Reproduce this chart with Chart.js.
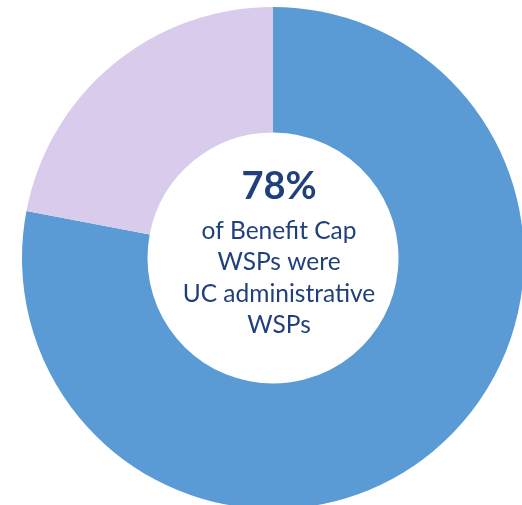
<!DOCTYPE html>
<html>
<head>
<meta charset="utf-8">
<script src="https://cdn.jsdelivr.net/npm/chart.js@4"></script>
<style>
  html, body { margin: 0; padding: 0; background: #fff; overflow: hidden; width: 522px; height: 505px; }
  #wrap { position: absolute; left: 22px; top: 7px; width: 502px; height: 502px; }
</style>
</head>
<body>
<div id="wrap"><canvas id="chart" width="502" height="502"></canvas></div>
<script>
const labels = ["UC administrative WSPs", "Other Benefit Cap WSPs"];
const shares = [78, 22];
const sliceColors = ["#5b9bd5", "#d9cbec"];
const headline = "78%";
const captionLines = ["of Benefit Cap", "WSPs were", "UC administrative", "WSPs"];

// draws the text in the hole of the doughnut
const centerText = {
  id: "centerText",
  afterDraw(chart) {
    const ctx = chart.ctx;
    const arc = chart.getDatasetMeta(0).data[0];
    const x = arc.x + 6; // text sits a little right of centre in the original
    const y = arc.y;
    ctx.save();
    ctx.fillStyle = "#1f3f7d";
    ctx.textAlign = "center";
    ctx.textBaseline = "middle";
    ctx.font = "bold 38px Lato";
    ctx.fillText(headline, x, y - 71);
    ctx.font = "24.5px Lato";
    captionLines.forEach((line, i) => {
      ctx.fillText(line, x, y - 27 + i * 31.5);
    });
    ctx.restore();
  }
};

new Chart(document.getElementById("chart").getContext("2d"), {
  type: "doughnut",
  data: {
    labels,
    datasets: [
      {
        data: shares,
        backgroundColor: sliceColors,
        borderWidth: 0,
      },
    ],
  },
  options: {
    responsive: false,
    animation: false,
    cutout: "50%",
    layout: { padding: 0 },
    plugins: {
      legend: { display: false },
      tooltip: { enabled: false },
    },
  },
  plugins: [centerText],
});
</script>
</body>
</html>
